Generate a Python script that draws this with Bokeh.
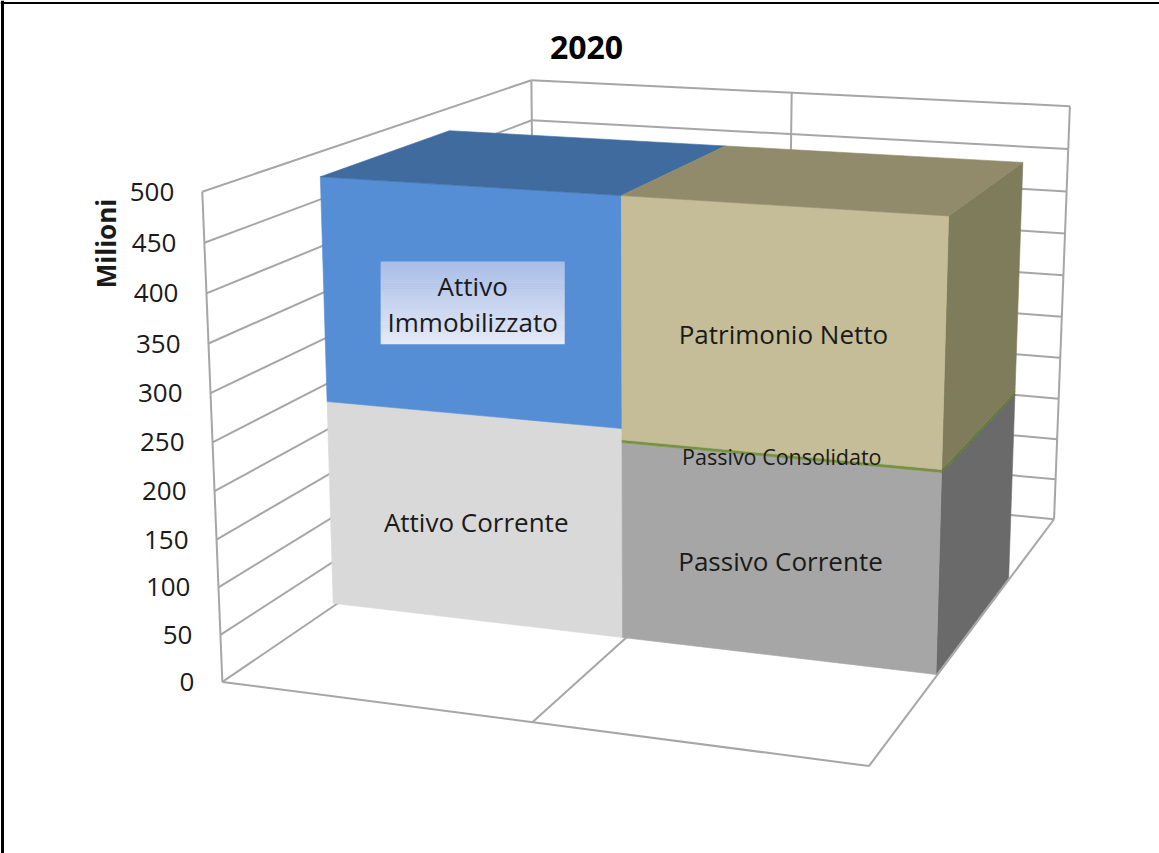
import numpy as np
from bokeh.plotting import figure
from bokeh.models import Range1d
from bokeh.core.properties import value
from bokeh.embed import file_html
from bokeh.resources import INLINE

# ---------- chart data ----------
title = "2020"
axis_title = "Milioni"
ticks = [0, 50, 100, 150, 200, 250, 300, 350, 400, 450, 500]
attivo_names = ["Attivo Corrente", "Attivo\nImmobilizzato"]
attivo_values = [228, 244]
passivo_names = ["Passivo Corrente", "Passivo Consolidato", "Patrimonio Netto"]
passivo_values = [213, 3, 256]

# ---------- camera calibration of the 3D box (x: 0-2, depth: 0-1, value) ----------
calib = [((0, 0, 0), (222, 680)), ((2, 0, 0), (869, 767)), ((0, 0, 500), (201, 192)),
         ((0, 1, 500), (532, 80)), ((2, 1, 500), (1069, 104)), ((2, 1, 0), (1051, 519)),
         ((1, 0, 0), (532, 721)), ((1, 1, 500), (791, 93)), ((0, 1, 0), (532, 468)),
         ((1, 1, 0), (791, 493))]
A, b = [], []
for (X, Y, Z), (u, v) in calib:
    A.append([X, Y, Z, 1, 0, 0, 0, 0, -u * X, -u * Y, -u * Z]); b.append(u)
    A.append([0, 0, 0, 0, X, Y, Z, 1, -v * X, -v * Y, -v * Z]); b.append(v)
A = np.array(A, float)
scale = np.abs(A).max(axis=0)
sol = np.linalg.lstsq(A / scale, np.array(b, float), rcond=None)[0] / scale
P = np.append(sol, 1.0).reshape(3, 4)


def proj(x, d, val):
    q = P @ np.array([x, d, val, 1.0])
    return q[0] / q[2], q[1] / q[2]


Hinv = np.linalg.inv(P[:, [0, 1, 3]])


def floor_inv(u, v):
    q = Hinv @ np.array([u, v, 1.0])
    return q[0] / q[2], q[1] / q[2]


# bar footprint measured on the floor plane
x0 = floor_inv(331, 604)[0]
xm = floor_inv(622, 637)[0]
x1 = floor_inv(934, 676)[0]
d0 = floor_inv(622, 637)[1]
d1 = floor_inv(1005, 577)[1]

p = figure(width=1159, height=853, output_backend="svg", toolbar_location=None,
           x_range=Range1d(0, 1159), y_range=Range1d(853, 0), min_border=0,
           outline_line_color=None, background_fill_color="white", border_fill_color="white")
p.axis.visible = False
p.grid.visible = False

WALL = "#A6A6A6"


def seg(a, b, color=WALL, w=2.0):
    p.line([a[0], b[0]], [a[1], b[1]], line_color=color, line_width=w)


def face(corners, color):
    xs = [proj(*c)[0] for c in corners]
    ys = [proj(*c)[1] for c in corners]
    p.patch(xs, ys, fill_color=color, line_color=color, line_width=0.6)


# walls and gridlines
top = ticks[-1]
for t in ticks:
    seg(proj(0, 0, t), proj(0, 1, t))
    seg(proj(0, 1, t), proj(2, 1, t))
seg(proj(0, 0, 0), proj(0, 0, top))
seg(proj(0, 1, 0), proj(0, 1, top))
seg(proj(1, 1, 0), proj(1, 1, top))
seg(proj(2, 1, 0), proj(2, 1, top))
seg(proj(0, 0, 0), proj(2, 0, 0))
seg(proj(2, 0, 0), proj(2, 1, 0))
seg(proj(1, 0, 0), proj(1, 1, 0))

# bars
front_cols = {"Attivo Corrente": "#D9D9D9", "Attivo\nImmobilizzato": "#558ED5",
              "Passivo Corrente": "#A6A6A6", "Passivo Consolidato": "#76923C",
              "Patrimonio Netto": "#C4BD97"}
side_cols = {"Passivo Corrente": "#6A6A6A", "Passivo Consolidato": "#5F7A30",
             "Patrimonio Netto": "#7F7C5C"}
top_cols = {"Attivo": "#3F6B9F", "Passivo": "#918B6B"}

labels = []
for names, vals, xa, xb, key in [(attivo_names, attivo_values, x0, xm, "Attivo"),
                                 (passivo_names, passivo_values, xm, x1, "Passivo")]:
    base = 0
    for n, v in zip(names, vals):
        lo, hi = base, base + v
        if n in side_cols:
            face([(xb, d0, lo), (xb, d1, lo), (xb, d1, hi), (xb, d0, hi)], side_cols[n])
        face([(xa, d0, lo), (xb, d0, lo), (xb, d0, hi), (xa, d0, hi)], front_cols[n])
        corners = [proj(xa, d0, lo), proj(xb, d0, lo), proj(xb, d0, hi), proj(xa, d0, hi)]
        labels.append((n, np.mean([c[0] for c in corners]), np.mean([c[1] for c in corners])))
        base = hi
    face([(xa, d0, base), (xb, d0, base), (xb, d1, base), (xa, d1, base)], top_cols[key])

FONT = value("Open Sans")


def text(x, y, s, size, style="normal", color="#1A1A1A", angle=0.0, align="center"):
    p.text([x], [y], text=[s], text_font=FONT, text_font_size=value(f"{size}px"),
           text_font_style=style, text_color=color, angle=angle, text_align=align,
           text_baseline="middle")


# data labels
for n, cx, cy in labels:
    if "\n" in n:
        strips = 40
        ys = np.linspace(cy - 39, cy + 43, strips + 1)
        c0, c1 = np.array([170, 190, 230]), np.array([228, 234, 247])
        for i in range(strips):
            col = c0 + (c1 - c0) * i / (strips - 1)
            hexcol = "#%02X%02X%02X" % tuple(int(a) for a in col)
            p.quad(left=cx - 92, right=cx + 92, top=ys[i], bottom=ys[i + 1] + 0.6,
                   fill_color=hexcol, line_color=None)
        a, b2 = n.split("\n")
        text(cx, cy - 15, a, 26)
        text(cx, cy + 21, b2, 26)
    elif n == "Passivo Consolidato":
        text(cx, cy, n, 21.5)
    else:
        text(cx, cy + 4, n, 26)

# tick labels
for t in ticks:
    wx, wy = proj(0, 0, t)
    text(wx - 28, wy, str(t), 26, align="right")

text(105, 243, axis_title, 26, style="bold", angle=np.pi / 2)
text(586, 47, title, 32, style="bold", color="#000000")

# picture frame
p.line([2, 2], [0, 853], line_color="black", line_width=3)
p.line([0, 1159], [2.5, 2.5], line_color="black", line_width=2)

open("out.html", "w").write(file_html(p, INLINE))
